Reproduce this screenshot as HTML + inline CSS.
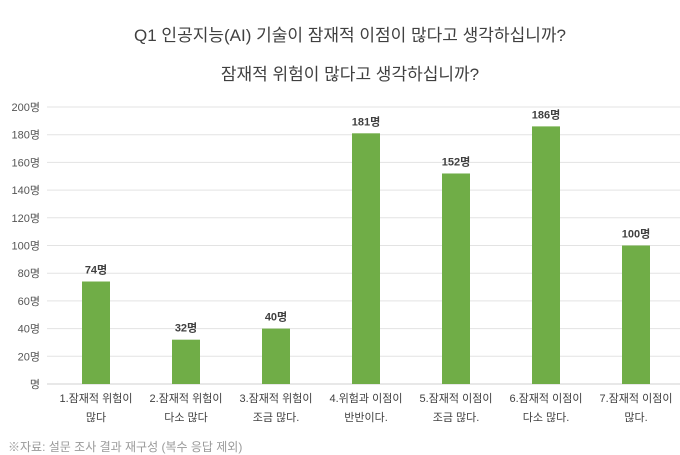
<!DOCTYPE html>
<html><head><meta charset="utf-8"><style>
body{margin:0;width:680px;height:446px;overflow:hidden;background:#fff;font-family:"Liberation Sans","Noto Sans CJK KR",sans-serif;position:relative}
.t{position:absolute;left:0;width:700px;text-align:center;font-size:17px;color:#404040}
</style></head><body>
<div class="t" style="top:21px">Q1 인공지능(AI) 기술이 잠재적 이점이 많다고 생각하십니까?</div>
<div class="t" style="top:60px">잠재적 위험이 많다고 생각하십니까?</div>
<svg id="c" width="680" height="446" style="position:absolute;left:0;top:0"></svg>
<div style="position:absolute;left:8px;top:438px;font-size:12px;color:#999">※자료: 설문 조사 결과 재구성 (복수 응답 제외)</div>
<script>
const categories=[["1.잠재적 위험이","많다"],["2.잠재적 위험이","다소 많다"],["3.잠재적 위험이","조금 많다."],["4.위험과 이점이","반반이다."],["5.잠재적 이점이","조금 많다."],["6.잠재적 이점이","다소 많다."],["7.잠재적 이점이","많다."]];
const values=[74,32,40,181,152,186,100];
const ticks=[0,20,40,60,80,100,120,140,160,180,200];
const svg=document.getElementById('c');const NS='http://www.w3.org/2000/svg';
const x0=51,step=90,y0=384,yTop=107,max=200,bw=28;
const y=v=>y0-(v/max)*(y0-yTop);
const cx=i=>x0+step*i+45;
function mk(t,a,txt){const e=document.createElementNS(NS,t);for(const k in a)e.setAttribute(k,a[k]);if(txt!=null)e.textContent=txt;svg.appendChild(e);return e;}
ticks.forEach(t=>{
 const l=mk('line',{x1:x0-4,x2:680,y1:y(t),y2:y(t),stroke:t?'#e3e3e3':'#d0d0d0','stroke-width':1});
 
 
 const tx=mk('text',{x:40,y:y(t)+4,'text-anchor':'end','font-size':11,fill:'#555'},(t?t:'')+'명');
 
 
});
values.forEach((v,i)=>{
 const r=mk('rect',{x:cx(i)-bw/2,y:y(v),width:bw,height:y0-y(v),fill:'#70ad47'});
 
 
 const lb=mk('text',{x:cx(i),y:y(v)-8,'text-anchor':'middle','font-size':11,'font-weight':'bold',fill:'#404040'},v+'명');
 
 
 categories[i].forEach((s,j)=>{
  const c=mk('text',{x:cx(i),y:402+j*19,'text-anchor':'middle','font-size':11,fill:'#404040'},s);
  
  
 });
});
</script>
</body></html>
